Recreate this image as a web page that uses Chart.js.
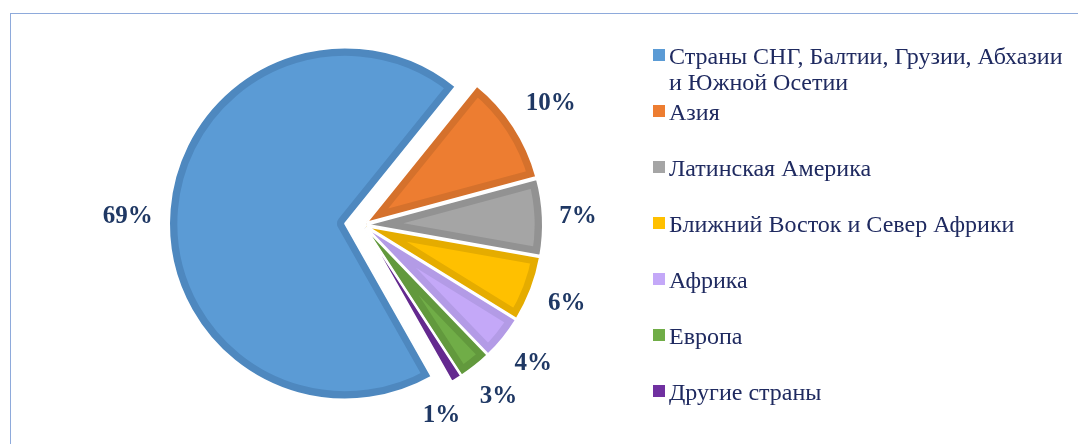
<!DOCTYPE html>
<html><head><meta charset="utf-8">
<script src="https://cdn.jsdelivr.net/npm/chart.js@4/dist/chart.umd.min.js"></script>
<style>
html,body{margin:0;padding:0;background:#fff;width:1078px;height:444px;overflow:hidden;}
#wrap{position:relative;width:1078px;height:444px;}
#frame{position:absolute;left:10px;top:13px;width:1200px;height:600px;border:1px solid #8EAADB;box-sizing:border-box;}
canvas{position:absolute;left:0;top:0;}
.lg{position:absolute;left:653px;font-family:"Liberation Serif","Times New Roman",serif;font-size:24px;line-height:26px;color:#1F2A60;}
.lg .m{position:absolute;left:0;top:6px;width:12px;height:12px;}
.lg .t{position:absolute;left:16px;top:0;width:398px;white-space:normal;}
</style></head>
<body><div id="wrap"><div id="frame"></div>
<canvas id="cFill" width="1078" height="444"></canvas>
<canvas id="cEdge" width="1078" height="444"></canvas>
<div id="legend"></div></div>
<script>
// ---- data ----
const categories = [
  'Страны СНГ, Балтии, Грузии, Абхазии и Южной Осетии',
  'Азия',
  'Латинская Америка',
  'Ближний Восток и Север Африки',
  'Африка',
  'Европа',
  'Другие страны'
];
const shares = [69, 10, 7, 6, 4, 3, 1];
const shareLabels = ['69%', '10%', '7%', '6%', '4%', '3%', '1%'];

// ---- styles ----
const fillColors = ['#5B9BD5', '#ED7D31', '#A5A5A5', '#FFC000', '#C4A8F8', '#70AD47', '#7030A0'];
const edgeColors = ['#4E88BF', '#D5712C', '#929292', '#E5AC00', '#B39BE6', '#62993D', '#64298F'];
const explodeBy = [18, 4, 4, 4, 4, 4, 4];
const labelAngleNudge = [-2.5, 0, 0, 0, 0, 0, 9]; // degrees, label placement tweaks
const labelRadialNudge = [0, 0, 0, 0, 0, 0, -10];  // px

// legend (HTML, generated from the same arrays)
const lg = document.getElementById('legend');
categories.forEach((name, i) => {
  const d = document.createElement('div');
  d.className = 'lg';
  d.style.top = (43 + i * 56) + 'px';
  d.innerHTML = '<span class="m" style="background:' + fillColors[i] + '"></span><span class="t"></span>';
  d.querySelector('.t').textContent = name;
  lg.appendChild(d);
});

const explodePlugin = {
  id: 'explode',
  afterDatasetsUpdate(chart) {
    chart.getDatasetMeta(0).data.forEach((arc, i) => {
      const mid = (arc.startAngle + arc.endAngle) / 2;
      arc.x += Math.cos(mid) * explodeBy[i];
      arc.y += Math.sin(mid) * explodeBy[i];
    });
  }
};

const labelPlugin = {
  id: 'outLabels',
  afterDatasetsDraw(chart) {
    const ctx = chart.ctx;
    ctx.save();
    ctx.font = 'bold 25px "Liberation Serif", "Times New Roman", serif';
    ctx.fillStyle = '#1F3864';
    ctx.textAlign = 'center';
    ctx.textBaseline = 'middle';
    const gap = 16, h = 26;
    chart.getDatasetMeta(0).data.forEach((arc, i) => {
      const mid = (arc.startAngle + arc.endAngle) / 2 + labelAngleNudge[i] * Math.PI / 180;
      const ux = Math.cos(mid), uy = Math.sin(mid);
      const w = ctx.measureText(shareLabels[i]).width;
      const ext = Math.abs(ux) * w / 2 + Math.abs(uy) * h / 2;
      const r = arc.outerRadius + gap + ext + labelRadialNudge[i];
      ctx.fillText(shareLabels[i], arc.x + ux * r, arc.y + uy * r + 1);
    });
    ctx.restore();
  }
};

function makePie(canvasId, ds, extraPlugins) {
  return new Chart(document.getElementById(canvasId), {
    type: 'pie',
    data: {
      labels: categories,
      datasets: [Object.assign({ data: shares, radius: 176 }, ds)]
    },
    options: {
      responsive: false,
      animation: false,
      rotation: 150.5,
      layout: { padding: { left: 0, right: 352, top: 6, bottom: 0 } },
      plugins: { legend: { display: false }, tooltip: { enabled: false } }
    },
    plugins: [explodePlugin].concat(extraPlugins)
  });
}

// slices with darker inner edge
makePie('cFill', {
  backgroundColor: fillColors,
  borderColor: edgeColors,
  borderWidth: 8,
  borderAlign: 'inner'
}, []);

// white separators between slices + value labels
makePie('cEdge', {
  backgroundColor: 'rgba(0,0,0,0)',
  borderColor: '#FFFFFF',
  borderWidth: 2,
  borderAlign: 'center'
}, [labelPlugin]);
</script>
</body></html>
